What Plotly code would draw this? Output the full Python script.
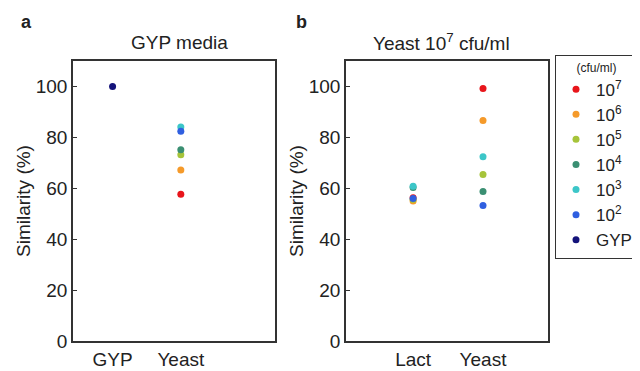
import plotly.graph_objects as go

series_names = ["10<sup>7</sup>", "10<sup>6</sup>", "10<sup>5</sup>", "10<sup>4</sup>",
                "10<sup>3</sup>", "10<sup>2</sup>", "GYP"]
series_colors = ["#e8151b", "#f59a2a", "#a6c43a", "#3a8f72", "#3cc6c8", "#2f5fe0", "#14137a"]

# Panel a: GYP media
cats_a = ["GYP", "Yeast"]
vals_a = [
    [None, 57.7],
    [None, 67.2],
    [None, 73.2],
    [None, 75.1],
    [None, 84.1],
    [None, 82.4],
    [100.0, None],
]

# Panel b: Yeast 10^7 cfu/ml
cats_b = ["Lact", "Yeast"]
vals_b = [
    [56.3, 99.2],
    [55.0, 86.6],
    [55.6, 65.4],
    [60.3, 58.7],
    [60.8, 72.4],
    [56.0, 53.2],
    [None, None],
]

y_ticks = [0, 20, 40, 60, 80, 100]

FONT = "Liberation Sans, Arial, sans-serif"
TXT = "#222222"

fig = go.Figure()
for i, name in enumerate(series_names):
    fig.add_trace(go.Scatter(x=cats_a, y=vals_a[i], mode="markers", name=name,
                             marker=dict(color=series_colors[i], size=7),
                             legendgroup=name, showlegend=True,
                             xaxis="x", yaxis="y"))
    fig.add_trace(go.Scatter(x=cats_b, y=vals_b[i], mode="markers", name=name,
                             marker=dict(color=series_colors[i], size=7),
                             legendgroup=name, showlegend=False,
                             xaxis="x2", yaxis="y2"))

# the page body has an 8px margin, so the figure is offset by 8px
OFF = 8
W = 640 - OFF
H = 371 - OFF
def px(p):
    return (p - OFF) / W
def py(p):
    return 1 - (p - OFF) / H

axis_common = dict(showline=True, linecolor="#333333", linewidth=1.5, mirror=True,
                   showgrid=False, zeroline=False, automargin=False,
                   tickfont=dict(size=19, color=TXT, family=FONT))

ytitle = dict(text="Similarity (%)", font=dict(size=19, color=TXT, family=FONT), standoff=0)

fig.update_layout(
    width=W, height=H,
    margin=dict(l=0, r=0, t=0, b=0, autoexpand=False),
    paper_bgcolor="white", plot_bgcolor="white",
    font=dict(family=FONT, color=TXT),
    xaxis=dict(domain=[px(73), px(275)], anchor="y", type="category",
               categoryorder="array", categoryarray=cats_a,
               range=[-0.58, 2.38], ticks="", **axis_common),
    yaxis=dict(domain=[py(341), py(61)], anchor="x", range=[0, 110],
               tickvals=y_ticks, ticks="inside", ticklen=4, tickcolor="#333333",
               title=ytitle, **axis_common),
    xaxis2=dict(domain=[px(346), px(548)], anchor="y2", type="category",
                categoryorder="array", categoryarray=cats_b,
                range=[-0.96, 1.93], ticks="", **axis_common),
    yaxis2=dict(domain=[py(341), py(61)], anchor="x2", range=[0, 110],
                tickvals=y_ticks, ticks="inside", ticklen=4, tickcolor="#333333",
                title=ytitle, **axis_common),
    legend=dict(x=px(555), y=py(55), xanchor="left", yanchor="top",
                bordercolor="#333333", borderwidth=1, bgcolor="white",
                font=dict(size=17, color=TXT, family=FONT),
                title=dict(text="(cfu/ml)", side="top center",
                           font=dict(size=12, color=TXT, family=FONT)),
                itemwidth=30, tracegroupgap=0),
    annotations=[
        dict(text="<b>a</b>", x=px(19), y=py(22), xref="paper", yref="paper",
             showarrow=False, xanchor="left", yanchor="middle",
             font=dict(size=18, color=TXT, family=FONT)),
        dict(text="<b>b</b>", x=px(294), y=py(22), xref="paper", yref="paper",
             showarrow=False, xanchor="left", yanchor="middle",
             font=dict(size=18, color=TXT, family=FONT)),
        dict(text="GYP media", x=px(179), y=py(42), xref="paper", yref="paper",
             showarrow=False, xanchor="center", yanchor="middle",
             font=dict(size=19, color=TXT, family=FONT)),
        dict(text="Yeast 10<sup>7</sup> cfu/ml", x=px(441), y=py(42), xref="paper", yref="paper",
             showarrow=False, xanchor="center", yanchor="middle",
             font=dict(size=19, color=TXT, family=FONT)),
    ],
)

fig.write_html("out.html")
